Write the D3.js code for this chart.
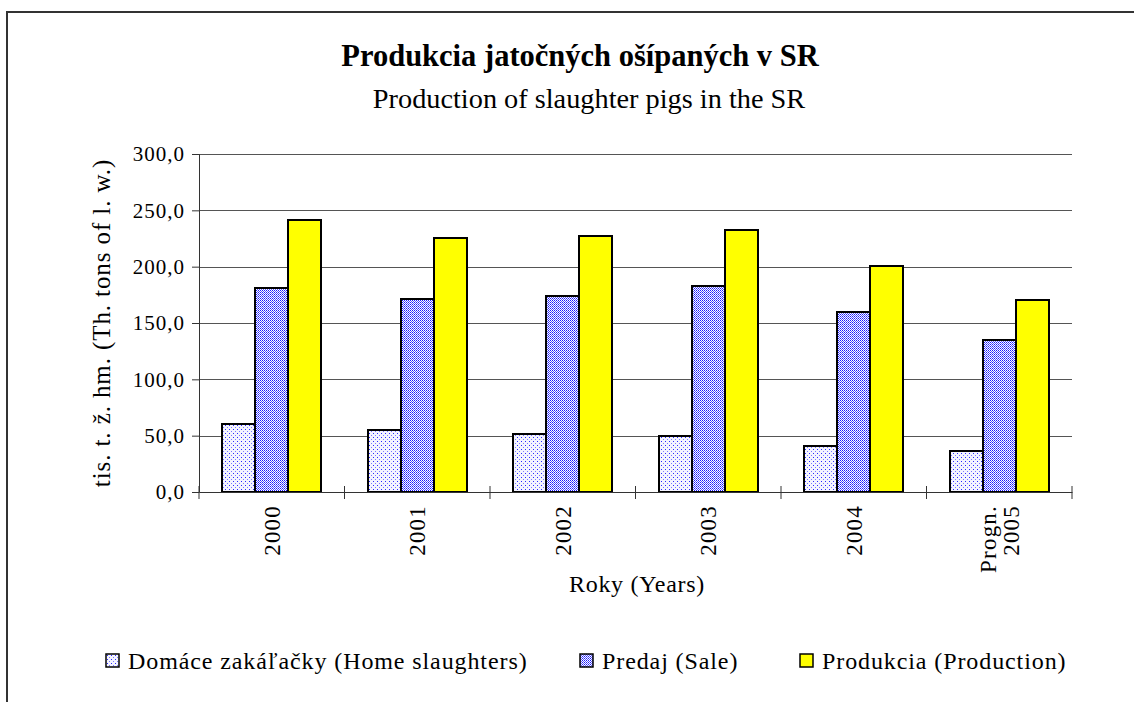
<!DOCTYPE html>
<html>
<head>
<meta charset="utf-8">
<script src="https://cdn.jsdelivr.net/npm/d3@7"></script>
<style>
  body { margin: 0; background: #fff; }
  svg text { font-family: "Liberation Serif", "Times New Roman", serif; fill: #000; }
</style>
</head>
<body>
<svg id="chart" width="1134" height="702"></svg>
<script>
// data
var years = ["2000", "2001", "2002", "2003", "2004", "Progn. 2005"];
var homeSlaughters = [60.4, 55.0, 51.8, 50.0, 41.0, 36.0];
var sale = [181.3, 171.0, 174.2, 183.0, 160.0, 135.0];
var production = [241.4, 225.7, 227.5, 232.5, 200.6, 170.7];
var seriesNames = ["Domáce zakáľačky (Home slaughters)", "Predaj (Sale)", "Produkcia (Production)"];
var yTicks = [0, 50, 100, 150, 200, 250, 300];

var svg = d3.select('#chart');

// fill patterns (pixel dithers), all in root coordinates
var defs = svg.append('defs');
var pHome = defs.append('pattern')
  .attr('id', 'pHome').attr('patternUnits', 'userSpaceOnUse')
  .attr('width', 4).attr('height', 4);
pHome.append('rect').attr('width', 4).attr('height', 4).attr('fill', '#f4f4ff');
[[1, 1, '#2a2aff'], [3, 3, '#7a7aff']].forEach(function(p) {
  pHome.append('rect').attr('x', p[0]).attr('y', p[1]).attr('width', 1).attr('height', 1)
    .attr('fill', p[2]).attr('shape-rendering', 'crispEdges');
});

var pSale = defs.append('pattern')
  .attr('id', 'pSale').attr('patternUnits', 'userSpaceOnUse')
  .attr('width', 2).attr('height', 2);
pSale.append('rect').attr('width', 2).attr('height', 2).attr('fill', '#fff');
pSale.append('rect').attr('x', 0).attr('y', 0).attr('width', 1).attr('height', 1)
  .attr('fill', '#1a1aff').attr('shape-rendering', 'crispEdges');
pSale.append('rect').attr('x', 1).attr('y', 1).attr('width', 1).attr('height', 1)
  .attr('fill', '#5a5aff').attr('shape-rendering', 'crispEdges');

var fills = ['url(#pHome)', 'url(#pSale)', '#ffff00'];

// outer frame (top and left only)
svg.append('path')
  .attr('d', 'M7,702 V12 H1134')
  .attr('fill', 'none').attr('stroke', '#333').attr('stroke-width', 2);

// titles
svg.append('text').attr('x', 580).attr('y', 66).attr('text-anchor', 'middle')
  .attr('font-size', 30.5).attr('font-weight', 'bold')
  .text('Produkcia jatočných ošípaných v SR');
svg.append('text').attr('x', 589).attr('y', 108).attr('text-anchor', 'middle')
  .attr('font-size', 28.3)
  .text('Production of slaughter pigs in the SR');

var plotLeft = 199, plotRight = 1072, plotTop = 154, plotBottom = 492;

var y = d3.scaleLinear().domain([0, 300]).range([plotBottom, plotTop]);
var x0 = d3.scaleBand().domain(years).range([plotLeft, plotRight]);
var x1 = d3.scaleBand().domain([0, 1, 2]).range([23, x0.bandwidth() - 23.5]);

// gridlines
svg.append('g').selectAll('line').data(yTicks.slice(1)).enter().append('line')
  .attr('x1', plotLeft).attr('x2', plotRight)
  .attr('y1', function(d) { return Math.round(y(d)) + 0.5; })
  .attr('y2', function(d) { return Math.round(y(d)) + 0.5; })
  .attr('stroke', '#555').attr('stroke-width', 1);

// bars, in absolute whole-pixel positions so the dithers stay crisp
var bars = [];
years.forEach(function(yr, i) {
  [homeSlaughters[i], sale[i], production[i]].forEach(function(v, s) {
    bars.push({ year: yr, s: s, v: v });
  });
});
svg.append('g').selectAll('rect').data(bars).enter().append('rect')
  .attr('x', function(d) { return Math.round(x0(d.year) + x1(d.s)); })
  .attr('y', function(d) { return Math.round(y(d.v)); })
  .attr('width', Math.round(x1.bandwidth()))
  .attr('height', function(d) { return plotBottom - Math.round(y(d.v)); })
  .attr('fill', function(d) { return fills[d.s]; })
  .attr('stroke', '#000').attr('stroke-width', 2);

// y axis
var yAxis = d3.axisLeft(y).tickValues(yTicks).tickSize(7).tickPadding(7)
  .tickFormat(function(d) { return d3.format('.1f')(d).replace('.', ','); });
var gy = svg.append('g').attr('transform', 'translate(' + plotLeft + ',0)').call(yAxis);
gy.select('.domain').attr('stroke', '#333');
gy.selectAll('.tick line').attr('stroke', '#333');
gy.selectAll('.tick text').attr('font-size', 21).attr('letter-spacing', 1);

// x axis
var xAxis = d3.axisBottom(x0).tickSize(0).tickFormat('');
var gx = svg.append('g').attr('transform', 'translate(0,' + plotBottom + ')').call(xAxis);
gx.select('.domain').attr('stroke', '#333');
var xEdges = years.map(function(d) { return x0(d); }).concat([plotRight]);
gx.selectAll('.sep').data(xEdges).enter().append('line')
  .attr('x1', function(d) { return d; }).attr('x2', function(d) { return d; })
  .attr('y1', -6).attr('y2', 7).attr('stroke', '#333');

// rotated category labels
years.forEach(function(yr) {
  var cx = x0(yr) + x0.bandwidth() / 2;
  var lines = yr.split(' ');
  var t = svg.append('text')
    .attr('transform', 'translate(' + cx + ',' + (plotBottom + 13) + ') rotate(-90)')
    .attr('text-anchor', 'end').attr('font-size', 23).attr('letter-spacing', 1.2);
  lines.forEach(function(l, i) {
    t.append('tspan').attr('x', 0)
      .attr('y', (i - (lines.length - 1) / 2) * 23 + 8)
      .text(l);
  });
});

// axis titles
svg.append('text').attr('x', 637).attr('y', 592).attr('text-anchor', 'middle')
  .attr('font-size', 24).attr('letter-spacing', 0.7).text('Roky (Years)');
svg.append('text')
  .attr('transform', 'translate(110,' + ((plotTop + plotBottom) / 2) + ') rotate(-90)')
  .attr('text-anchor', 'middle').attr('font-size', 25).attr('letter-spacing', 0.9)
  .text('tis. t. ž. hm. (Th. tons of l. w.)');

// legend
var legendX = [106, 580, 800];
var leg = svg.append('g').selectAll('g').data(seriesNames).enter().append('g')
  .attr('transform', function(d, i) { return 'translate(' + legendX[i] + ',654)'; });
leg.append('rect').attr('width', 13).attr('height', 13)
  .attr('fill', function(d, i) { return fills[i]; })
  .attr('stroke', '#000').attr('stroke-width', 1.5);
leg.append('text').attr('x', 22).attr('y', 15).attr('font-size', 24).attr('letter-spacing', 0.9)
  .text(function(d) { return d; });
</script>
</body>
</html>
